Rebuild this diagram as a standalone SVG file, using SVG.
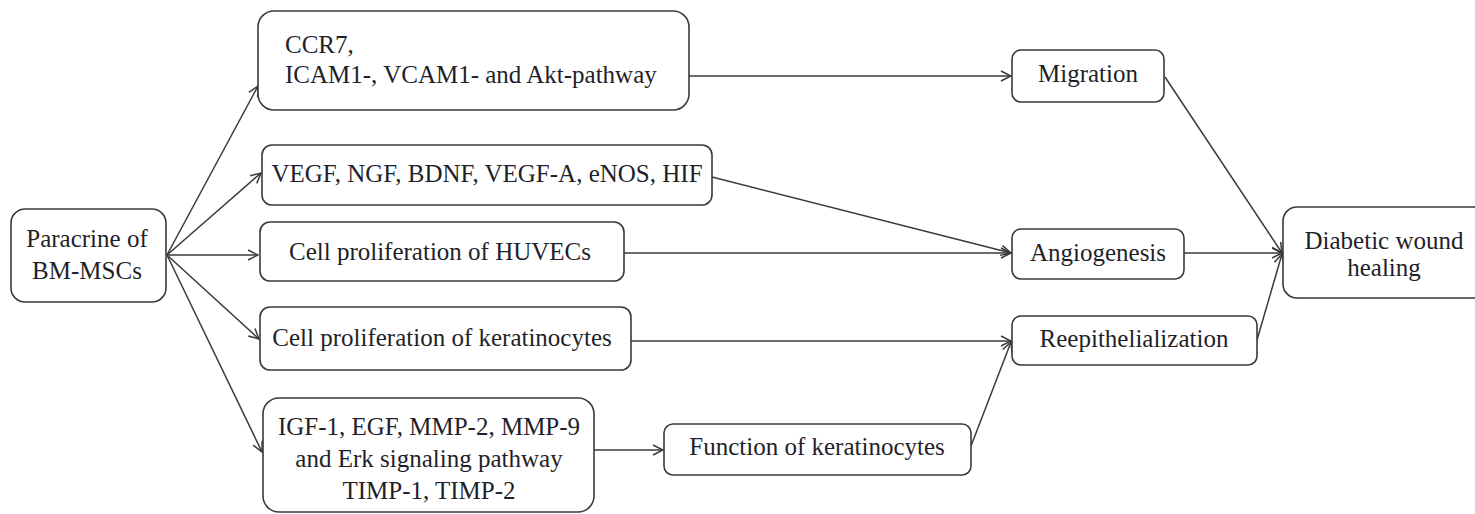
<svg xmlns="http://www.w3.org/2000/svg" width="1475" height="514" viewBox="0 0 1475 514">
<style>
.box{fill:#fff;stroke:#3a3a3a;stroke-width:1.6}
.t{font-family:"Liberation Serif","Times New Roman",serif;font-size:25px;fill:#1f1f2a}
.c{text-anchor:middle}
.e{fill:none;stroke:#3a3a3a;stroke-width:1.5}
</style>
<defs>
<marker id="ah" viewBox="0 0 12 12" refX="11" refY="6" markerWidth="12" markerHeight="12" markerUnits="userSpaceOnUse" orient="auto">
<path d="M1,1 L11,6 L1,11" fill="none" stroke="#3a3a3a" stroke-width="1.5"/>
</marker>
</defs>
<rect width="1475" height="514" fill="#fff"/>
<g id="connectors">
<line class="e" x1="167" y1="255" x2="258" y2="86" marker-end="url(#ah)"/>
<line class="e" x1="167" y1="255" x2="261" y2="173" marker-end="url(#ah)"/>
<line class="e" x1="167" y1="255" x2="258" y2="255" marker-end="url(#ah)"/>
<line class="e" x1="167" y1="255" x2="259" y2="339" marker-end="url(#ah)"/>
<line class="e" x1="167" y1="255" x2="262" y2="452" marker-end="url(#ah)"/>
<line class="e" x1="689" y1="76" x2="1011" y2="76" marker-end="url(#ah)"/>
<line class="e" x1="712" y1="177" x2="1011" y2="253" marker-end="url(#ah)"/>
<line class="e" x1="624" y1="253" x2="1011" y2="253" marker-end="url(#ah)"/>
<line class="e" x1="631" y1="341" x2="1011" y2="341" marker-end="url(#ah)"/>
<line class="e" x1="594" y1="450" x2="663" y2="450" marker-end="url(#ah)"/>
<line class="e" x1="971" y1="446" x2="1011" y2="342" marker-end="url(#ah)"/>
<line class="e" x1="1165" y1="77" x2="1282" y2="253" marker-end="url(#ah)"/>
<line class="e" x1="1184" y1="253" x2="1282" y2="253" marker-end="url(#ah)"/>
<line class="e" x1="1257" y1="340" x2="1282" y2="254" marker-end="url(#ah)"/>
</g>
<g id="paracrine">
<rect class="box" x="11" y="209" width="155" height="93" rx="14"/>
<text class="t c" x="87" y="247">Paracrine of</text>
<text class="t c" x="87" y="279">BM-MSCs</text>
</g>
<g id="ccr7">
<rect class="box" x="258" y="11" width="431" height="99" rx="16"/>
<text class="t" x="285" y="53">CCR7,</text>
<text class="t" x="285" y="83">ICAM1-, VCAM1- and Akt-pathway</text>
</g>
<g id="vegf">
<rect class="box" x="262" y="145" width="450" height="60" rx="10"/>
<text class="t c" x="487" y="182">VEGF, NGF, BDNF, VEGF-A, eNOS, HIF</text>
</g>
<g id="huvecs">
<rect class="box" x="260" y="222" width="364" height="59" rx="10"/>
<text class="t c" x="440" y="260">Cell proliferation of HUVECs</text>
</g>
<g id="keratinocytes">
<rect class="box" x="260" y="307" width="371" height="63" rx="10"/>
<text class="t c" x="442" y="346">Cell proliferation of keratinocytes</text>
</g>
<g id="igf">
<rect class="box" x="263" y="398" width="331" height="114" rx="16"/>
<text class="t c" x="429" y="435">IGF-1, EGF, MMP-2, MMP-9</text>
<text class="t c" x="429" y="467">and Erk signaling pathway</text>
<text class="t c" x="429" y="499">TIMP-1, TIMP-2</text>
</g>
<g id="function">
<rect class="box" x="664" y="424" width="307" height="51" rx="9"/>
<text class="t c" x="817" y="455">Function of keratinocytes</text>
</g>
<g id="migration">
<rect class="box" x="1012" y="50" width="152" height="52" rx="9"/>
<text class="t c" x="1088" y="82">Migration</text>
</g>
<g id="angiogenesis">
<rect class="box" x="1012" y="229" width="172" height="50" rx="9"/>
<text class="t c" x="1098" y="261">Angiogenesis</text>
</g>
<g id="reepithelialization">
<rect class="box" x="1012" y="316" width="245" height="49" rx="9"/>
<text class="t c" x="1134" y="347">Reepithelialization</text>
</g>
<g id="diabetic">
<rect class="box" x="1283" y="207" width="210" height="91" rx="14"/>
<text class="t c" x="1384" y="249">Diabetic wound</text>
<text class="t c" x="1384" y="276">healing</text>
</g>
</svg>
